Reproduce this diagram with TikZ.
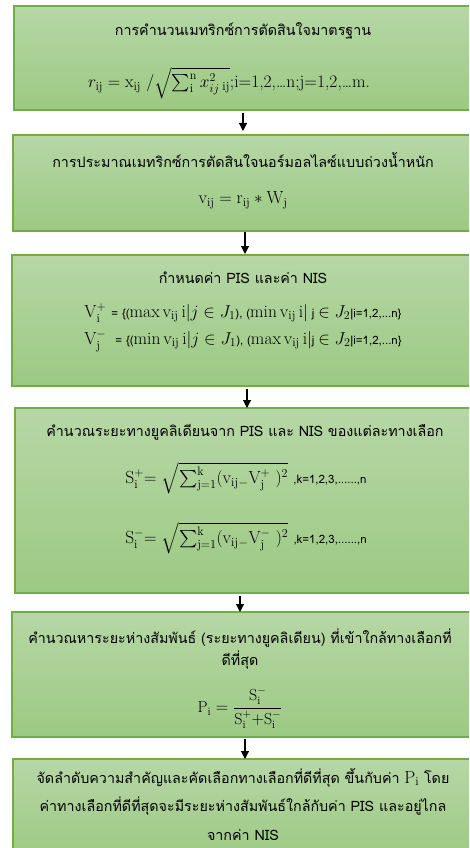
\documentclass[tikz,border=0pt]{standalone}
\usepackage{fontspec}
\usepackage{amsmath}
\newfontfamily\thaifont[Script=Thai]{Loma}
\usetikzlibrary{arrows.meta}
\definecolor{boxedge}{RGB}{112,173,71}
\definecolor{boxtop}{RGB}{182,215,166}
\definecolor{boxbot}{RGB}{156,201,131}
\tikzset{
  stepbox/.style={draw=boxedge, line width=1.3pt, top color=boxtop, bottom color=boxbot,
    anchor=north west, inner sep=0pt, outer sep=0pt},
  thaitext/.style={font=\thaifont\fontsize{14.3}{22}\selectfont, inner sep=0pt, align=center},
  mathtext/.style={font=\fontsize{17.5}{20}\selectfont, inner sep=0pt},
  arr/.style={draw=black, line width=1.1pt, -{Triangle[length=8pt,width=8pt]}},
}
\newcommand{\sm}[1]{{\thaifont\fontsize{11.5}{13}\selectfont #1}}
\begin{document}
\begin{tikzpicture}[x=1pt,y=-1pt]
\useasboundingbox (0,0) rectangle (469,848);
\clip (0,0) rectangle (469,848);
% boxes
\node[stepbox, minimum width=460pt, minimum height=104pt] (b1) at (14,6) {};
\node[stepbox, minimum width=461pt, minimum height=96pt] (b2) at (13,135) {};
\node[stepbox, minimum width=462pt, minimum height=131pt] (b3) at (12,255) {};
\node[stepbox, minimum width=459pt, minimum height=185pt] (b4) at (15,408) {};
\node[stepbox, minimum width=462pt, minimum height=125pt] (b5) at (12,612) {};
\node[stepbox, minimum width=461pt, minimum height=100pt] (b6) at (13,759) {};
% texts
\node[thaitext] (t1) at (243,31) {การคำนวนเมทริกซ์การตัดสินใจมาตรฐาน};
\node[mathtext] (f1) at (229,83) {$r_{\mathrm{ij}} = \mathrm{x}_{\mathrm{ij}}\ /\sqrt{\textstyle\sum_{\mathrm{i}}^{\mathrm{n}} x_{ij}^{2}\,{}_{\mathrm{ij}}}$;i=1,2,\ldots n;j=1,2,\ldots m.};
\node[thaitext] (t2) at (243,160) {การประมาณเมทริกซ์การตัดสินใจนอร์มอลไลซ์แบบถ่วงน้ำหนัก};
\node[mathtext] (f2) at (243,200) {$\mathrm{v_{ij}} = \mathrm{r_{ij}} * \mathrm{W_j}$};
\node[thaitext] (t3) at (243,278) {กำหนดค่า PIS และค่า NIS};
\node[mathtext] (f3) at (243,313) {$\mathrm{V_i^{+}}$ \sm{= \{(}$\max \mathrm{v_{ij}}\,\mathrm{i}|j\in J_1$\sm{), (}$\min \mathrm{v_{ij}}\,\mathrm{i}|$\sm{ j }$\in J_2$\sm{|i=1,2,...n\}}};
\node[mathtext] (f4) at (243,341) {$\mathrm{V_j^{-}}$ \sm{ = \{(}$\min \mathrm{v_{ij}}\,\mathrm{i}|j\in J_1$\sm{), (}$\max \mathrm{v_{ij}}\,\mathrm{i}|$\sm{j }$\in J_2$\sm{|i=1,2,...n\}}};
\node[thaitext] (t4) at (245,432) {คำนวณระยะทางยูคลิเดียนจาก PIS และ NIS ของแต่ละทางเลือก};
\node[mathtext] (f5) at (246,478) {$\mathrm{S_i^{+}}{=}\ \sqrt{\textstyle\sum_{\mathrm{j=1}}^{\mathrm{k}}(\mathrm{v_{ij}}{}_{-}\mathrm{V_j^{+}}\ )^2}$ \sm{,k=1,2,3,......,n}};
\node[mathtext] (f6) at (246,538) {$\mathrm{S_i^{-}}{=}\ \sqrt{\textstyle\sum_{\mathrm{j=1}}^{\mathrm{k}}(\mathrm{v_{ij}}{}_{-}\mathrm{V_j^{-}}\ )^2}$ \sm{,k=1,2,3,......,n}};
\node[thaitext] (t5) at (240,649) {คำนวณหาระยะห่างสัมพันธ์ (ระยะทางยูคลิเดียน) ที่เข้าใกล้ทางเลือกที่\\ดีที่สุด};
\node[mathtext, font=\fontsize{16}{18}\selectfont] (f7) at (240,708) {$\mathrm{P_i} = \dfrac{\mathrm{S_i^{-}}}{\mathrm{S_i^{+}}{+}\mathrm{S_i^{-}}}$};
\node[thaitext, font=\thaifont\fontsize{14.3}{28.5}\selectfont] (t6) at (243,804) {จัดลำดับความสำคัญและคัดเลือกทางเลือกที่ดีที่สุด ขึ้นกับค่า {\rmfamily\fontsize{17.5}{18}\selectfont$\mathrm{P_i}$} โดย\\ค่าทางเลือกที่ดีที่สุดจะมีระยะห่างสัมพันธ์ใกล้กับค่า PIS และอยู่ไกล\\จากค่า NIS};
% arrows
\coordinate (a1) at (243,0);
\coordinate (a2) at (245,0);
\coordinate (a3) at (247,0);
\coordinate (a4) at (240,0);
\coordinate (a5) at (245,0);
\draw[arr, shorten <=3pt, shorten >=4pt] (a1 |- b1.south) -- (a1 |- b2.north);
\draw[arr, shorten <=1pt, shorten >=1pt] (a2 |- b2.south) -- (a2 |- b3.north);
\draw[arr, shorten <=3pt] (a3 |- b3.south) -- (a3 |- b4.north);
\draw[arr, shorten <=3pt] (a4 |- b4.south) -- (a4 |- b5.north);
\draw[arr, shorten <=2pt] (a5 |- b5.south) -- (a5 |- b6.north);
\end{tikzpicture}
\end{document}
